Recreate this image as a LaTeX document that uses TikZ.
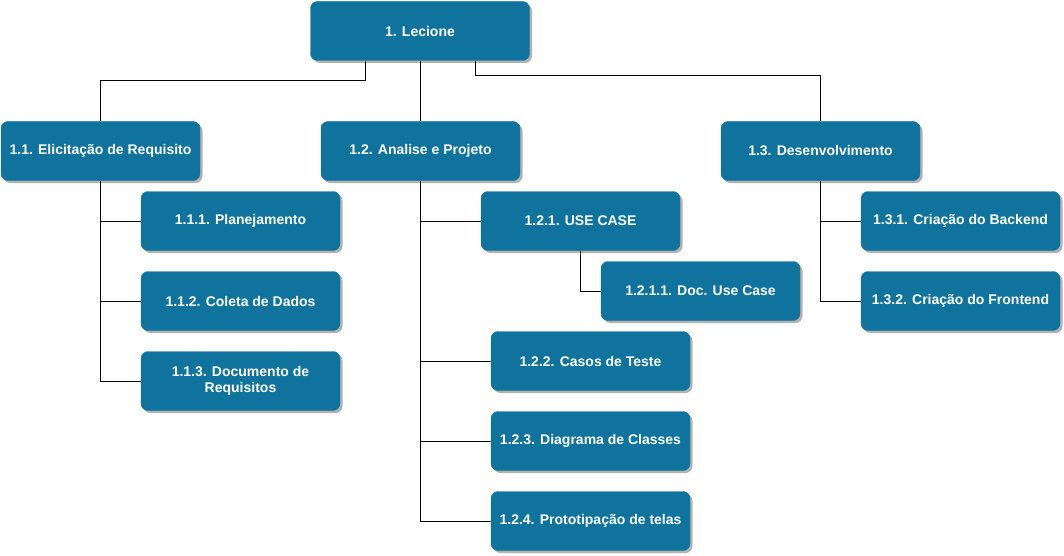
\documentclass[tikz,border=0pt]{standalone}
\usepackage{fontspec}
\setmainfont{Liberation Sans}
\usetikzlibrary{shadows}

\definecolor{wbsblue}{HTML}{10739E}

\begin{document}
\begin{tikzpicture}[x=1pt, y=-1pt,
            every node/.style={draw=wbsblue, fill=wbsblue, rounded corners=7pt,
                text=white, font=\bfseries\fontsize{14}{16.5}\selectfont, align=center,
                minimum width=199pt, minimum height=59pt, inner sep=0pt,
                drop shadow={shadow xshift=2.5pt, shadow yshift=-2.5pt, fill=black, opacity=0.3}},
            link/.style={draw, line width=1pt}]
        \useasboundingbox (0,0) rectangle (1064,556);
        % nivel 1
        \node[minimum width=219pt] (lecione) at (420,31) {1. Lecione};
        % nivel 2
        \node (elicit) at (100.5,151) {1.1. Elicitação de Requisito};
        \node (analise) at (420.5,151) {1.2. Analise e Projeto};
        \node (desenv) at (820.5,151) {1.3. Desenvolvimento};
        % 1.1
        \node (planej) at (240.5,221) {1.1.1. Planejamento};
        \node (coleta) at (240.5,301) {1.1.2. Coleta de Dados};
        \node (docreq) at (240.5,381) {1.1.3. Documento de\\Requisitos};
        % 1.2
        \node (usecase) at (580.5,221) {1.2.1. USE CASE};
        \node (docuse) at (700.5,291) {1.2.1.1. Doc. Use Case};
        \node (casos) at (590.5,361) {1.2.2. Casos de Teste};
        \node (classes) at (590.5,441) {1.2.3. Diagrama de Classes};
        \node (proto) at (590.5,521) {1.2.4. Prototipação de telas};
        % 1.3
        \node (backend) at (960.5,221) {1.3.1. Criação do Backend};
        \node (frontend) at (960.5,301) {1.3.2. Criação do Frontend};

        \draw[link] ([xshift=-55pt]lecione.south) -- ++(0,20) -| (elicit.north);
        \draw[link] (analise.north |- lecione.south) -- (analise.north);
        \draw[link] ([xshift=55pt]lecione.south) -- ++(0,15) -| (desenv.north);
        \foreach \child in {planej, coleta, docreq}
            \draw[link] (elicit.south) |- (\child.west);
        \foreach \child in {usecase, casos, classes, proto}
            \draw[link] (analise.south) |- (\child.west);
        \draw[link] (usecase.south) |- (docuse.west);
        \foreach \child in {backend, frontend}
            \draw[link] (desenv.south) |- (\child.west);
\end{tikzpicture}
\end{document}
